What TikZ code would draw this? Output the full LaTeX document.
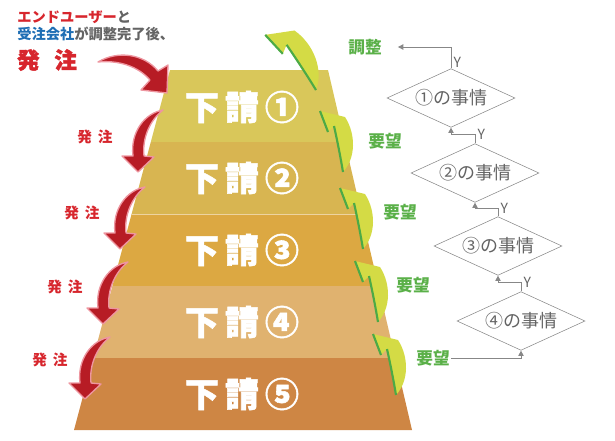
\documentclass[tikz,border=0pt]{standalone}
\usepackage{xcolor}
\usepackage{fontspec}
\setmainfont{Noto Sans CJK JP}
\newfontfamily\heavyfont[BoldFeatures={FakeBold=1.6}]{Noto Sans CJK JP}
\usetikzlibrary{shapes.geometric,arrows.meta}

\definecolor{bandA}{RGB}{217,199,90}
\definecolor{bandB}{RGB}{216,181,81}
\definecolor{bandC}{RGB}{220,168,66}
\definecolor{bandD}{RGB}{224,178,111}
\definecolor{bandE}{RGB}{206,134,68}
\definecolor{hatchuRed}{RGB}{183,28,37}
\definecolor{hatchuPink}{RGB}{238,150,160}
\definecolor{leafFill}{RGB}{212,219,69}
\definecolor{leafEdge}{RGB}{76,170,70}
\definecolor{youbouGreen}{RGB}{90,176,72}
\definecolor{labelRed}{RGB}{215,38,45}
\definecolor{labelBlue}{RGB}{30,110,180}
\definecolor{labelGray}{RGB}{100,100,100}
\definecolor{flowGray}{RGB}{135,135,135}

\tikzset{
  jijou/.style={diamond, draw=flowGray, fill=white, aspect=2.17, minimum width=96pt, minimum height=44pt, inner sep=1pt, text=labelGray, font=\fontsize{13.5}{14}\selectfont},
  flowline/.style={draw=flowGray, line width=0.75pt, -{Triangle[width=4pt,length=4pt]}},
  ylabel/.style={text=labelGray, font=\fontsize{10.5}{11}\selectfont, inner sep=1.5pt},
  youbou/.style={text=youbouGreen, font=\bfseries\fontsize{12.5}{13}\selectfont, inner sep=1pt},
  hatchu/.style={text=labelRed, font=\bfseries\fontsize{11}{11}\selectfont, inner sep=1pt},
  ukeoi/.style={text=white, font=\heavyfont\bfseries\fontsize{25.5}{26}\selectfont, inner sep=0pt},
  redfill/.style={fill=hatchuRed, draw=hatchuPink, line width=1pt, line join=round},
  pics/leafarrow/.style={code={
    \begin{scope}[yscale=-1]
    \fill[leafFill] (0,0) .. controls (13,-14) and (13,-38) .. (2,-55) -- (-23,-61) -- (-15,-40) -- (-9,-46) .. controls (-5,-28) and (-2,-12) .. (0,0) -- cycle;
    \draw[leafEdge, line width=1.6pt] (-23,-61) -- (-15,-40) (-9,-46) .. controls (-5,-28) and (-2,-12) .. (0,0);
    \end{scope}
  }},
  pics/redarrow/.style={code={
    \begin{scope}[yscale=-1]
    \filldraw[redfill] (0,0) .. controls (-18,3) and (-33,22) .. (-30,46) -- (-41,46) -- (-25,62) -- (-9,47) -- (-19,46) .. controls (-21,28) and (-13,10) .. (0,0) -- cycle;
    \end{scope}
  }},
}

\begin{document}
\begin{tikzpicture}[x=0.75pt,y=0.75pt,yscale=-1,xscale=1]
\useasboundingbox (0,0) rectangle (615,440);

%Shape: pyramid bands
\fill[bandA] (170,70) -- (328,70) -- (344.8,142) -- (150.8,142) -- cycle;
\fill[bandB] (150.8,142) -- (344.8,142) -- (361.6,214) -- (131.6,214) -- cycle;
\fill[bandC] (131.6,214) -- (361.6,214) -- (378.4,286) -- (112.4,286) -- cycle;
\fill[bandD] (112.4,286) -- (378.4,286) -- (395.2,358) -- (93.2,358) -- cycle;
\fill[bandE] (93.2,358) -- (395.2,358) -- (412,430) -- (74,430) -- cycle;
\draw[white, opacity=0.5] (131.6,214) -- (361.6,214);

%Red arrows (order)
\filldraw[redfill] (98,62) .. controls (118,50) and (144,54) .. (158,71) -- (168,65) -- (167,93) -- (141,90) -- (150,80) .. controls (138,66) and (118,60) .. (98,62) -- cycle;
\pic at (163,110) {redarrow};
\pic at (145,187) {redarrow};
\pic at (128,262) {redarrow};
\pic at (110,337) {redarrow};

%Green arrows (request)
\pic[rotate=22, scale=1.15] at (316,90) {leafarrow};
\pic at (343,172) {leafarrow};
\pic at (363,249) {leafarrow};
\pic at (378,322) {leafarrow};
\pic at (396,395) {leafarrow};

% Text Node
\draw (242,107) node (u1) [ukeoi] {下\hspace{4.5pt}請\hspace{4.5pt}①};
% Text Node
\draw (242,178) node (u2) [ukeoi] {下\hspace{4.5pt}請\hspace{4.5pt}②};
% Text Node
\draw (242,250) node (u3) [ukeoi] {下\hspace{4.5pt}請\hspace{4.5pt}③};
% Text Node
\draw (242,322) node (u4) [ukeoi] {下\hspace{4.5pt}請\hspace{4.5pt}④};
% Text Node
\draw (242,394) node (u5) [ukeoi] {下\hspace{4.5pt}請\hspace{4.5pt}⑤};

% Text Node
\draw (17,17) node (intro1) [anchor=west, inner sep=0pt, font=\bfseries\fontsize{10.7}{11}\selectfont] {\textcolor{labelRed}{エンドユーザー}\textcolor{labelGray}{と}};
% Text Node
\draw (17,34) node (intro2) [anchor=west, inner sep=0pt, font=\bfseries\fontsize{10.7}{11}\selectfont] {\textcolor{labelBlue}{受注会社}\textcolor{labelGray}{が調整完了後、}};
% Text Node
\draw (47,60) node (order0) [text=labelRed, font=\heavyfont\bfseries\fontsize{17}{17}\selectfont, inner sep=0pt] {発\hspace{11pt}注};
% Text Node
\draw (95,137) node (order1) [hatchu] {発\hspace{4.5pt}注};
% Text Node
\draw (82,213) node (order2) [hatchu] {発\hspace{4.5pt}注};
% Text Node
\draw (65,287) node (order3) [hatchu] {発\hspace{4.5pt}注};
% Text Node
\draw (50,360) node (order4) [hatchu] {発\hspace{4.5pt}注};

% Text Node
\draw (365,47) node (chousei) [youbou] {調整};
% Text Node
\draw (385,141) node (yb2) [youbou] {要望};
% Text Node
\draw (400,212) node (yb3) [youbou] {要望};
% Text Node
\draw (413,285) node (yb4) [youbou] {要望};
% Text Node
\draw (433,358) node (yb5) [youbou] {要望};

%Flow: circumstances
\node[jijou] (d1) at (451,98) {①の事情};
\node[jijou] (d2) at (475,173) {②の事情};
\node[jijou] (d3) at (498,246) {③の事情};
\node[jijou] (d4) at (521,321) {④の事情};

\draw[flowline] (d1.north) |- node[pos=0.15, ylabel, anchor=west] {Y} ([xshift=11pt]chousei.east);
\draw[flowline] (d2.north) -- ++(0,-9) node[ylabel, anchor=west] {Y} -| (d1.south);
\draw[flowline] (d3.north) -- ++(0,-8) node[ylabel, anchor=west] {Y} -| (d2.south);
\draw[flowline] (d4.north) -- ++(0,-9) node[ylabel, anchor=west] {Y} -| (d3.south);
\draw[flowline] (yb5.east) -| (d4.south);

\end{tikzpicture}
\end{document}
